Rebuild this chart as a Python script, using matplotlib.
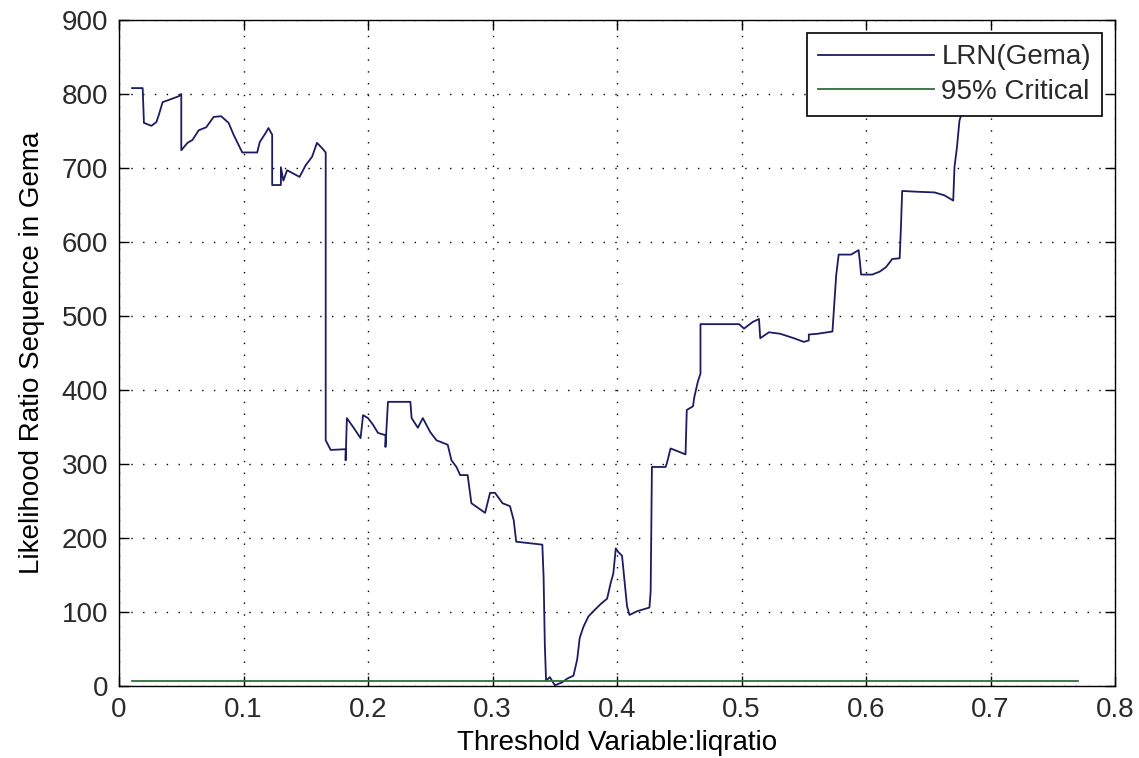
import matplotlib
matplotlib.use("Agg")
import matplotlib.pyplot as plt

plt.rcParams['font.family'] = ['Liberation Sans', 'DejaVu Sans']
plt.rcParams['text.color'] = '#2a2a2a'

# ===================== 数据 =====================
# 阈值变量 liqratio 与对应的似然比统计量 LRN
thr = [0.0105, 0.019, 0.020, 0.026, 0.030, 0.032, 0.035, 0.040, 0.048, 0.050,
       0.050, 0.055, 0.059, 0.064, 0.070, 0.076, 0.082, 0.088, 0.092, 0.099,
       0.111, 0.113, 0.118, 0.120, 0.123, 0.123, 0.130, 0.130, 0.132, 0.135,
       0.145, 0.150, 0.155, 0.159, 0.163, 0.166, 0.166, 0.170, 0.182, 0.182,
       0.183, 0.188, 0.194, 0.196, 0.200, 0.204, 0.208, 0.214, 0.214, 0.216,
       0.223, 0.234, 0.235, 0.240, 0.244, 0.250, 0.255, 0.264, 0.267, 0.271,
       0.274, 0.280, 0.283, 0.294, 0.298, 0.302, 0.308, 0.314, 0.317, 0.319,
       0.340, 0.341, 0.342, 0.343, 0.346, 0.350, 0.356, 0.360, 0.365, 0.368,
       0.370, 0.373, 0.377, 0.381, 0.387, 0.392, 0.395, 0.397, 0.399, 0.401,
       0.404, 0.406, 0.408, 0.410, 0.416, 0.426, 0.427, 0.428, 0.439, 0.440,
       0.443, 0.455, 0.456, 0.461, 0.462, 0.465, 0.467, 0.467, 0.498, 0.502,
       0.509, 0.514, 0.515, 0.522, 0.531, 0.542, 0.550, 0.554, 0.554, 0.561,
       0.573, 0.574, 0.576, 0.578, 0.588, 0.594, 0.595, 0.596, 0.605, 0.611,
       0.616, 0.621, 0.627, 0.628, 0.629, 0.640, 0.655, 0.663, 0.670, 0.671,
       0.673, 0.675, 0.677, 0.679]
lrn = [808, 808, 761, 757, 762, 772, 789, 792, 797, 800,
       724, 734, 738, 751, 755, 769, 770, 761, 745, 721,
       721, 735, 748, 754, 745, 677, 677, 701, 683, 697,
       688, 704, 715, 734, 727, 721, 332, 319, 320, 305,
       362, 350, 335, 366, 362, 353, 342, 339, 323, 384,
       384, 384, 362, 349, 362, 343, 332, 326, 305, 296,
       285, 285, 247, 234, 261, 261, 247, 243, 224, 195,
       191, 147, 55, 7, 12, 1, 5, 10, 14, 36,
       65, 80, 94, 101, 111, 118, 140, 152, 186, 181,
       176, 142, 108, 96, 101, 106, 128, 296, 296, 301,
       321, 313, 373, 378, 390, 412, 422, 489, 489, 483,
       492, 496, 470, 478, 476, 470, 465, 467, 475, 476,
       479, 504, 555, 583, 583, 589, 574, 556, 556, 560,
       566, 577, 578, 620, 669, 668, 667, 663, 656, 701,
       728, 764, 775, 800]

crit_x = [0.0105, 0.77]
crit_95 = 7.35

x_ticks = [0, 0.1, 0.2, 0.3, 0.4, 0.5, 0.6, 0.7, 0.8]
x_labels = ['0', '0.1', '0.2', '0.3', '0.4', '0.5', '0.6', '0.7', '0.8']
y_ticks = [0, 100, 200, 300, 400, 500, 600, 700, 800, 900]

# ===================== 绘图 =====================
fig = plt.figure(figsize=(11.39, 7.58), dpi=100)
ax = fig.add_axes([0.1045, 0.095, 0.8745, 0.8786])

ax.plot(thr, lrn, color='#1c1c62', lw=1.3, label='LRN(Gema)')
ax.plot(crit_x, [crit_95, crit_95], color='#2e6e36', lw=1.3, label='95% Critical')

ax.set_xlim(0, 0.8)
ax.set_ylim(0, 900)
ax.set_xticks(x_ticks)
ax.set_xticklabels(x_labels)
ax.set_yticks(y_ticks)

ax.grid(True, color='black', linestyle=(0, (1, 7.5)), lw=1.0)
ax.tick_params(direction='in', length=7, width=1, top=True, right=True,
               labelsize=20, pad=8, colors='black', labelcolor='#2a2a2a')
for s in ax.spines.values():
    s.set_linewidth(1.0)

ax.set_xlabel('Threshold Variable:liqratio', fontsize=20, labelpad=5)
ax.set_ylabel('Likelihood Ratio Sequence in Gema', fontsize=20, labelpad=12)

# 图例：黑色直角边框，右上角
leg = ax.legend(loc='upper right', bbox_to_anchor=(0.987, 0.980), borderaxespad=0,
                fontsize=20, handlelength=4.2, handletextpad=0.25,
                labelspacing=0.3, borderpad=0.4, fancybox=False,
                framealpha=1, edgecolor='black')
leg.get_frame().set_linewidth(1.2)

fig.savefig('out.png', dpi=100, facecolor='white')
